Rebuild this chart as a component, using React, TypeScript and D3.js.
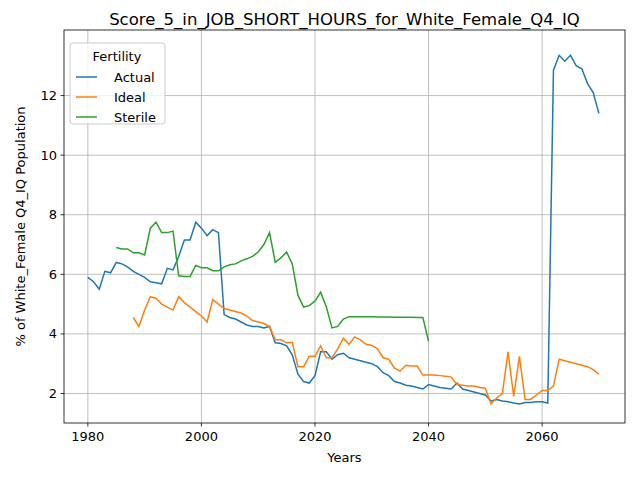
import React from "react";
import * as d3 from "d3";

const actualStart = 1980;
const actual = [5.9,5.75,5.5,6.1,6.05,6.4,6.35,6.25,6.1,6.0,5.9,5.75,5.72,5.68,6.2,6.15,6.6,7.15,7.15,7.75,7.55,7.3,7.5,7.4,4.65,4.55,4.5,4.4,4.3,4.25,4.25,4.2,4.25,3.7,3.68,3.6,3.3,2.65,2.4,2.35,2.6,3.4,3.4,3.15,3.3,3.35,3.2,3.15,3.1,3.05,3.0,2.9,2.7,2.6,2.4,2.35,2.28,2.25,2.2,2.15,2.3,2.25,2.2,2.18,2.15,2.35,2.15,2.1,2.05,2.0,1.95,1.75,1.8,1.75,1.72,1.68,1.65,1.7,1.7,1.72,1.72,1.68,12.85,13.35,13.15,13.35,13.0,12.9,12.4,12.1,11.4];
const idealStart = 1988;
const ideal = [4.55,4.25,4.8,5.25,5.2,5.0,4.9,4.8,5.25,5.05,4.9,4.75,4.6,4.4,5.15,5.0,4.85,4.8,4.75,4.7,4.6,4.45,4.4,4.35,4.25,3.8,3.8,3.7,3.72,2.9,2.9,3.25,3.25,3.6,3.2,3.2,3.5,3.85,3.65,3.9,3.8,3.65,3.62,3.5,3.2,3.15,2.85,2.75,2.95,2.92,2.92,2.62,2.62,2.62,2.6,2.58,2.55,2.3,2.28,2.25,2.25,2.2,2.18,1.65,1.85,2.0,3.4,1.9,3.25,1.8,1.8,1.95,2.1,2.1,2.25,3.15,3.1,3.05,3.0,2.95,2.9,2.8,2.65];
const sterileStart = 1985;
const sterile = [6.9,6.85,6.85,6.72,6.72,6.65,7.55,7.75,7.4,7.4,7.45,5.95,5.93,5.93,6.3,6.22,6.22,6.12,6.12,6.25,6.32,6.35,6.45,6.52,6.6,6.75,7.0,7.4,6.4,6.55,6.75,6.35,5.3,4.9,4.95,5.1,5.4,4.9,4.2,4.25,4.5,4.58,4.58,4.58,4.58,4.58,4.57,4.57,4.57,4.56,4.56,4.56,4.56,4.55,4.55,3.75];
const xTicks = [1980,2000,2020,2040,2060];
const yTicks = [2,4,6,8,10,12];
const names = ["Actual","Ideal","Sterile"];
const colors = ["#1f77b4","#ff7f0e","#2ca02c"];

export default function App() {
  const W = 640, H = 480, L = 64, R = 625, T = 30, B = 423;
  const x = d3.scaleLinear().domain([1975.8, 2074.6]).range([L, R]);
  const y = d3.scaleLinear().domain([1.01, 14.2]).range([B, T]);
  const line = d3.line<number[]>().x(d => x(d[0])).y(d => y(d[1]));
  const series = [[actualStart, actual],[idealStart, ideal],[sterileStart, sterile]] as [number, number[]][];
  return (
    <svg width={W} height={H} style={{position:"absolute",left:0,top:0,fontFamily:"DejaVu Sans"}}>
      <rect width={W} height={H} fill="#fff" />
      {xTicks.map(t => <line key={t} x1={x(t)} x2={x(t)} y1={T} y2={B} stroke="#b0b0b0" strokeWidth={0.8} />)}
      {yTicks.map(t => <line key={t} x1={L} x2={R} y1={y(t)} y2={y(t)} stroke="#b0b0b0" strokeWidth={0.8} />)}
      {series.map(([s, v], i) => (
        <path key={i} d={line(v.map((val, j) => [s + j, val]))!} fill="none" stroke={colors[i]} strokeWidth={1.5} />
      ))}
      <rect x={L} y={T} width={R - L} height={B - T} fill="none" stroke="#000" strokeWidth={0.8} />
      {xTicks.map(t => (
        <g key={t}>
          <line x1={x(t)} x2={x(t)} y1={B} y2={B + 3.5} stroke="#000" strokeWidth={0.8} />
          <text x={x(t)} y={B + 18} fontSize={13} textAnchor="middle">{t}</text>
        </g>
      ))}
      {yTicks.map(t => (
        <g key={t}>
          <line x1={L - 3.5} x2={L} y1={y(t)} y2={y(t)} stroke="#000" strokeWidth={0.8} />
          <text x={L - 7} y={y(t) + 4.5} fontSize={13} textAnchor="end">{t}</text>
        </g>
      ))}
      <text x={(L + R) / 2} y={462} fontSize={13} textAnchor="middle">Years</text>
      <text transform={`translate(25,${(T + B) / 2}) rotate(-90)`} fontSize={13} textAnchor="middle">% of White_Female Q4_IQ Population</text>
      <text x={(L + R) / 2} y={25} fontSize={16.5} textAnchor="middle">Score_5_in_JOB_SHORT_HOURS_for_White_Female_Q4_IQ</text>
      <g>
        <rect x={70} y={43} width={95} height={81} rx={3} fill="#fff" fillOpacity={0.8} stroke="#cccccc" />
        <text x={117} y={61} fontSize={13} textAnchor="middle">Fertility</text>
        {names.map((n, i) => (
          <g key={n}>
            <line x1={76} x2={97} y1={77 + i * 20} y2={77 + i * 20} stroke={colors[i]} strokeWidth={1.5} />
            <text x={114} y={82 + i * 20} fontSize={13}>{n}</text>
          </g>
        ))}
      </g>
    </svg>
  );
}
